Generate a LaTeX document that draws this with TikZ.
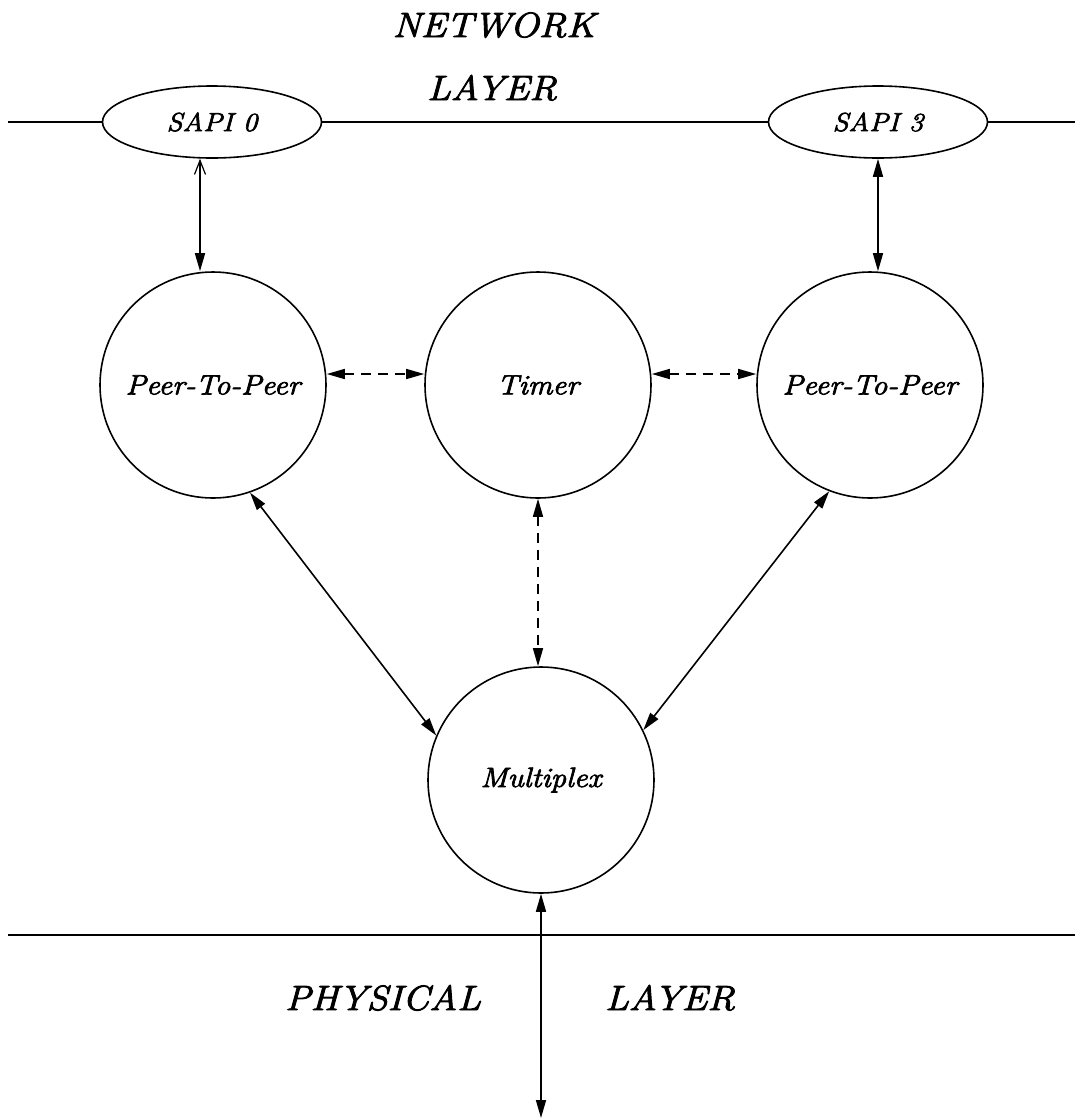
\documentclass[tikz,border=0pt]{standalone}
\usepackage{fontspec}
\usetikzlibrary{arrows.meta,shapes.geometric}
\newfontfamily\lblfont{Latin Modern Roman}[ItalicFeatures={FakeBold=2.6,FakeStretch=1.1}]
\begin{document}
\begin{tikzpicture}[x=1pt,y=-1pt,
  line width=1.6pt,
  layertext/.style={font=\lblfont\fontsize{35}{40}\selectfont\itshape,inner sep=0pt,anchor=base},
  sapi/.style={draw,ellipse,minimum width=219pt,minimum height=72pt,inner sep=0pt,
    font=\lblfont\fontsize{26}{30}\selectfont\itshape},
  proc/.style={draw,circle,minimum size=226pt,inner sep=0pt,
    font=\lblfont\fontsize{28}{32}\selectfont\itshape},
  tip/.tip={Triangle[length=18pt,width=10pt]},
  biarrow/.style={tip-tip},
  dasharrow/.style={tip-tip,dash pattern=on 10pt off 7pt},
]
\useasboundingbox (0,0) rectangle (1075,1120);

% layer titles
\node[layertext] (nt1) at (494,37) {NETWORK};
\node[layertext] (nt2) at (492,100) {LAYER};
\node[layertext] (ph1) at (383,1010) {PHYSICAL};
\node[layertext] (ph2) at (670,1010) {LAYER};

% service access points on the network-layer boundary
\node[sapi] (s0) at (212,122) {SAPI 0};
\node[sapi] (s3) at (878,122) {SAPI 3};
\coordinate (nl) at (8,122);
\coordinate (nr) at (1075,122);
\draw (nl) -- (s0.west);
\draw (s0.east) -- (s3.west);
\draw (s3.east) -- (nr);

% processes
\node[proc] (p1) at (213,385) {Peer-To-Peer};
\node[proc] (tm) at (538,385) {Timer};
\node[proc] (p3) at (870,385) {Peer-To-Peer};
\node[proc] (mx) at (541,780) {Multiplex};

% physical-layer boundary
\coordinate (pl) at (8,935);
\coordinate (pr) at (1075,935);
\draw (pl) -- (pr);
\coordinate (phy) at (541,1118);

% connectors
\draw[{Straight Barb[length=14pt,width=11pt,line width=1.2pt]}-tip]
  ([xshift=-12pt]s0.south) -- ([xshift=-12pt]s0.south |- p1.north);
\draw[biarrow] (s3.south) -- (s3.south |- p3.north);
\draw[dasharrow] ([yshift=11pt]p1.east) -- ([yshift=11pt]tm.west);
\draw[dasharrow] ([yshift=11pt]tm.east) -- ([yshift=11pt]p3.west);
\draw[dasharrow] (tm.south) -- (tm.south |- mx.north);
\draw[biarrow] (p1.-71) -- (mx.157);
\draw[biarrow] (p3.-111) -- (mx.26);
\draw[biarrow] (mx.south) -- (phy);
\end{tikzpicture}
\end{document}
